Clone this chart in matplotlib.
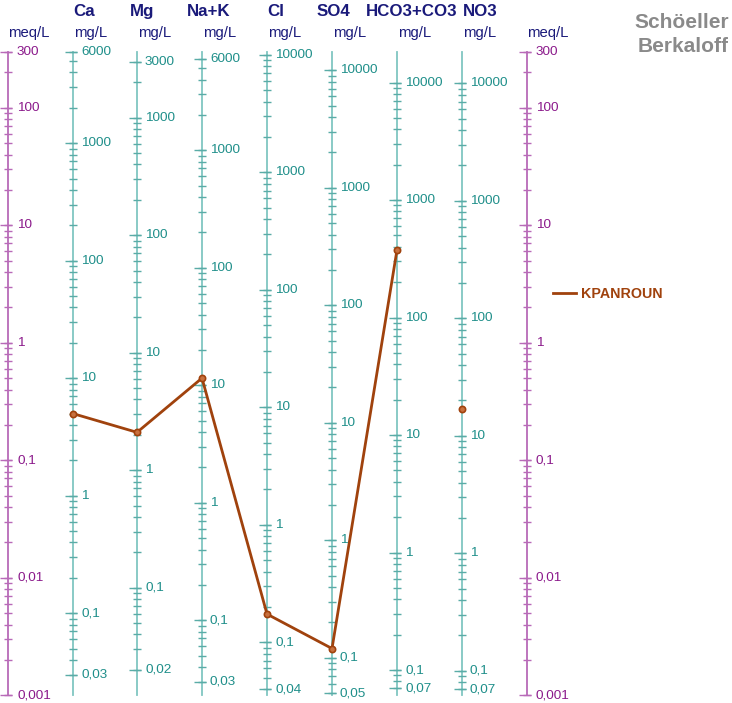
"""Schoeller-Berkaloff diagram for one water sample."""

import matplotlib

matplotlib.use("Agg")
import matplotlib.pyplot as plt
import numpy as np

plt.rcParams["font.family"] = ["Liberation Sans", "DejaVu Sans"]

# species shown on the diagram, with equivalent weights (mg per meq)
species = ["Ca", "Mg", "Na+K", "Cl", "SO4", "HCO3+CO3", "NO3"]
eq_weight = [20.04, 12.15, 22.99, 35.45, 48.03, 61.02, 62.0]

# labelled values on each mg/L axis
mg_labels = [
    [6000, 1000, 100, 10, 1, 0.1, 0.03],
    [3000, 1000, 100, 10, 1, 0.1, 0.02],
    [6000, 1000, 100, 10, 1, 0.1, 0.03],
    [10000, 1000, 100, 10, 1, 0.1, 0.04],
    [10000, 1000, 100, 10, 1, 0.1, 0.05],
    [10000, 1000, 100, 10, 1, 0.1, 0.07],
    [10000, 1000, 100, 10, 1, 0.1, 0.07],
]
meq_labels = [300, 100, 10, 1, 0.1, 0.01, 0.001]

# sample (mg/L)
sample_name = "KPANROUN"
sample_mg = [5.0, 2.1, 11.5, 0.174, 0.12, 376, 16.8]

MEQ_MIN, MEQ_MAX = 0.001, 300

# layout (pixels)
W, H = 732, 703
col_x = [73, 137, 202, 267, 332, 397, 462]
meq_x = [8, 527]
head_x = [73, 130, 187, 267, 317, 366, 463]
TOP_PX, DECADE_PX = 51.7, 117.5

TEAL = "#1f8f8a"
TEAL_AX = "#80c6c2"
TEAL_TK = "#5aaca7"
PURPLE = "#8b1a8b"
PURPLE_AX = "#b86ab8"
NAVY = "#1a1a7a"
BROWN = "#a0420d"


def fmt(v):
    s = f"{v:g}"
    return s.replace(".", ",")


def y_of_px(p):
    return 10 ** (np.log10(MEQ_MAX) - (p - TOP_PX) / DECADE_PX)


def minor_values(lo, hi):
    vals = []
    for k in range(-4, 6):
        for m in range(1, 10):
            v = m * 10.0**k
            if lo * (1 - 1e-9) <= v <= hi * (1 + 1e-9):
                vals.append(v)
    return vals


fig = plt.figure(figsize=(W / 100, H / 100), dpi=100)
ax = fig.add_axes([0, 0, 1, 1])
ax.set_xlim(0, W)
ax.set_yscale("log")
ax.set_ylim(y_of_px(H), y_of_px(0))
ax.axis("off")

# meq/L axes on both sides
for x in meq_x:
    ax.plot([x, x], [MEQ_MIN, MEQ_MAX], color=PURPLE_AX, lw=1.3)
    ticks = minor_values(MEQ_MIN, MEQ_MAX)
    ax.hlines(ticks, x - 4, x + 4, color=PURPLE_AX, lw=1)
    ax.hlines(meq_labels, x - 8, x + 4, color=PURPLE_AX, lw=1)
    for v in meq_labels:
        ax.text(x + 9, v, fmt(v), color=PURPLE, fontsize=9.7, va="center", ha="left")
    ax.text(x, y_of_px(33.5), "meq/L", color=NAVY, fontsize=10.7, va="center", ha="left")

# mg/L axes, one per species
for name, w, x, hx, labels in zip(species, eq_weight, col_x, head_x, mg_labels):
    ax.plot([x, x], [MEQ_MIN, MEQ_MAX], color=TEAL_AX, lw=1.3)
    ticks = [v / w for v in minor_values(MEQ_MIN * w, MEQ_MAX * w)]
    ax.hlines(ticks, x - 4, x + 4, color=TEAL_TK, lw=1)
    ax.hlines([v / w for v in labels], x - 8, x + 4, color=TEAL_TK, lw=1)
    for v in labels:
        ax.text(x + 8, v / w, fmt(v), color=TEAL, fontsize=9.7, va="center", ha="left")
    ax.text(hx, y_of_px(11.5), name, color=NAVY, fontsize=12.2, fontweight="bold",
            va="center", ha="left")
    ax.text(x + 1, y_of_px(33.5), "mg/L", color=NAVY, fontsize=10.7, va="center", ha="left")

# sample line (cations + anions), NO3 shown as a single point
sample_meq = [m / w for m, w in zip(sample_mg, eq_weight)]
ax.plot(col_x[:6], sample_meq[:6], color=BROWN, lw=2, marker="o", ms=4.5,
        mfc="#c8713f", mec=BROWN, mew=1.2, label=sample_name)
ax.plot(col_x[6], sample_meq[6], color=BROWN, marker="o", ms=4.5,
        mfc="#c8713f", mec=BROWN, mew=1.2, ls="none")

ax.legend(loc="upper left", bbox_to_anchor=(540 / W, 1 - 274 / H), frameon=False,
          handlelength=1.6, handletextpad=0.4, markerscale=0,
          prop={"weight": "bold", "size": 10.3}, labelcolor=BROWN)

ax.text(729, y_of_px(23), "Schöeller", color="#8a8a8a", fontsize=15,
        fontweight="bold", ha="right", va="center")
ax.text(729, y_of_px(46), "Berkaloff", color="#8a8a8a", fontsize=15,
        fontweight="bold", ha="right", va="center")

fig.savefig("out.png", dpi=100)
